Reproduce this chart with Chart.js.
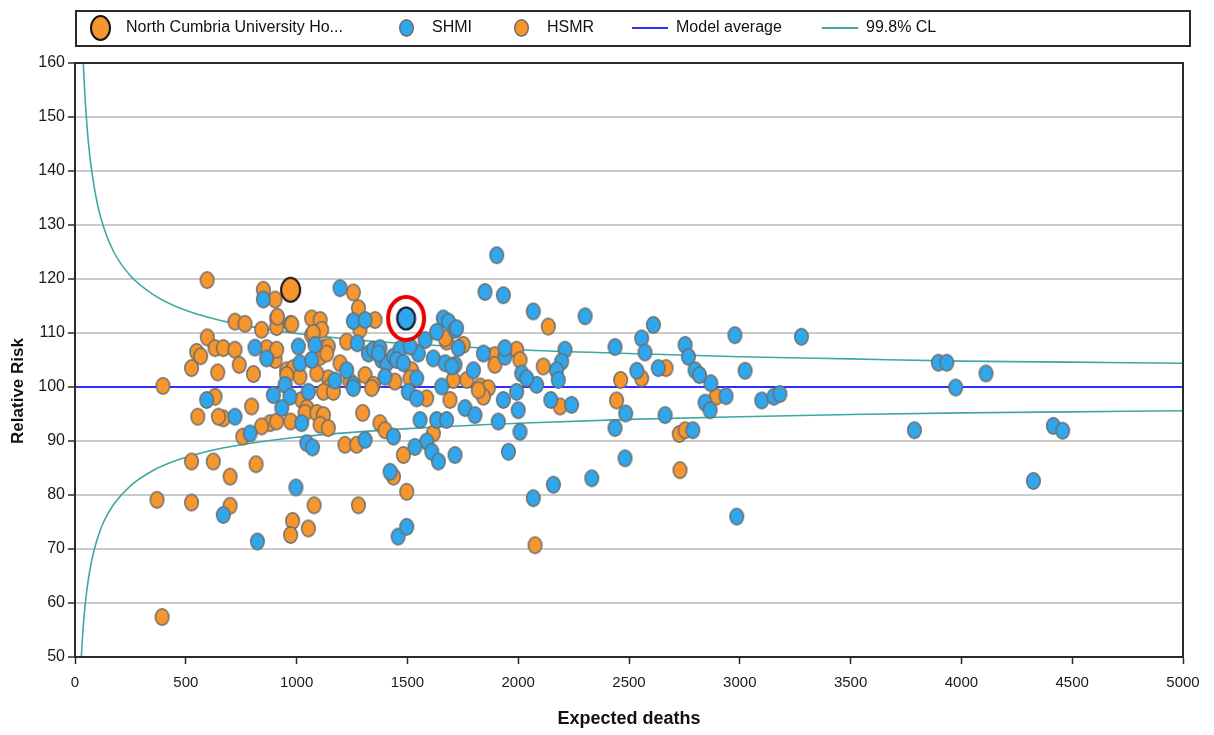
<!DOCTYPE html>
<html>
<head>
<meta charset="utf-8">
<script src="https://cdn.jsdelivr.net/npm/chart.js@4.4.1/dist/chart.umd.min.js"></script>
<style>
  html, body { margin: 0; padding: 0; background: #fff; }
  #wrap { width: 1214px; height: 735px; }
</style>
</head>
<body>
<div id="wrap"><canvas id="c"></canvas></div>
<script>
// --- data ---
const shmiX = [850,1196,1256,1309,812,865,1008,1015,1083,1068,
  1274,1324,1347,1384,1407,1437,1226,1173,1256,1399,
  948,895,970,1053,933,1023,722,594,790,1046,
  1072,1309,1437,669,997,823,1422,1458,1256,1903,
  1850,1933,2068,1662,1685,1632,1715,1580,1730,1467,
  1549,1617,1670,1715,1798,1843,1940,2016,2083,1993,
  1933,2000,1910,2008,1956,2068,1760,1805,1655,1504,
  1542,1542,1557,1632,1677,1587,1534,1610,1640,1715,
  1497,1451,1376,1512,1722,1369,1482,1700,2159,2302,
  2610,2557,2437,2978,3278,1940,2211,2196,2173,2181,
  2038,2332,2147,2241,2485,2437,2482,2535,2572,2632,
  2663,2753,2768,2798,2818,2869,2938,2843,2866,2788,
  3024,3099,3154,3181,2986,3896,3934,4111,3974,3788,
  4415,4457,4325]
const shmiY = [116.2,118.3,112.2,112.4,107.3,105.3,107.5,104.4,107.8,105.0,
  108.1,106.2,106.9,105.0,104.4,105.6,103.1,101.2,100.4,101.9,
  100.4,98.5,98.2,99.1,96.1,93.3,94.5,97.6,91.4,89.6,
  88.8,90.2,90.8,76.3,81.4,71.4,84.3,72.3,99.8,124.4,
  117.6,117.0,114.0,112.7,112.1,110.2,110.6,108.7,107.2,107.0,
  106.2,105.3,104.4,104.1,103.1,106.2,105.6,102.5,100.4,99.1,
  97.6,95.7,93.6,91.7,88.0,79.4,96.1,94.8,100.1,99.1,
  97.9,101.6,93.9,93.9,93.9,89.9,88.9,88.0,86.2,87.4,
  74.1,105.0,107.2,107.5,110.9,106.2,104.4,103.8,81.9,113.1,
  111.5,109.0,107.4,109.6,109.3,107.2,106.9,104.7,103.1,101.3,
  101.6,83.1,97.6,96.7,95.1,92.4,86.8,103.0,106.4,103.5,
  94.8,107.8,105.6,103.1,102.2,100.7,98.3,97.1,95.7,92.0,
  103.0,97.5,98.2,98.7,76.0,104.5,104.5,102.5,99.9,92.0,
  92.8,91.9,82.6]

const hsmrX = [397,370,393,596,850,903,1256,1279,1354,1286,
  722,767,842,910,910,973,1068,1106,1113,1068,
  597,549,567,526,632,669,722,741,644,805,
  903,865,910,1121,1106,1143,1075,1226,1196,1309,
  1347,1444,1143,1151,1241,955,985,1015,1091,1121,
  1023,1046,1038,1091,1121,973,1106,1143,880,842,
  910,797,669,647,554,632,757,1218,1271,1376,
  1399,526,624,817,700,526,700,1079,1279,982,
  973,1053,1437,1298,913,978,1136,955,1166,1497,
  1482,1617,1587,1692,1828,1865,1843,1519,1512,1339,
  1677,1895,1993,2008,2113,2136,2076,1670,1752,1895,
  1707,1768,1820,2189,2462,2444,2557,2667,2893,2727,
  2753,2730]
const hsmrY = [100.2,79.1,57.4,119.8,118.0,116.2,117.5,114.6,112.4,110.6,
  112.1,111.7,110.6,112.7,111.1,111.7,112.7,112.4,110.6,109.6,
  109.2,106.5,105.7,103.5,107.2,107.2,106.9,104.1,102.7,102.4,
  105.0,107.2,106.9,107.2,105.6,107.5,110.0,108.4,104.4,102.2,
  100.4,101.0,101.6,100.1,101.0,103.1,103.5,101.9,102.5,99.1,
  97.6,96.1,95.2,95.2,94.8,93.6,93.0,92.4,93.3,92.7,
  93.6,96.4,94.2,94.5,94.5,98.2,90.8,89.3,89.3,93.3,
  92.0,86.2,86.2,85.7,83.4,78.6,78.0,78.1,78.1,75.2,
  72.6,73.8,83.4,95.2,113.0,111.6,106.2,102.2,99.1,80.6,
  87.4,91.4,97.9,97.6,100.1,99.8,98.2,103.1,101.6,99.8,
  108.4,105.9,106.9,105.0,103.8,111.2,70.7,109.0,107.8,104.1,
  101.3,101.3,99.4,96.4,101.3,97.5,101.6,103.5,98.2,91.3,
  92.0,84.6]

// North Cumbria: HSMR (big orange) and SHMI (ringed blue)
const trustHsmr = [973, 118.0]
const trustShmi = [1494, 112.7]

const averageX = [0, 5000]
const averageY = [100, 100]

// 99.8% control limits
const clE = [24,26,30,35,40,45,50,60,75,100,130,175,250,350,450,600,750,1000,1250,1500,2000,2500,3000,3500,4000,4500,5000]
const clUpper = [178.3,174.6,168.5,162.4,157.7,153.8,150.6,145.5,140.1,134.1,129.5,125.0,120.6,117.2,115.0,112.9,111.5,109.9,108.8,108.0,106.9,106.2,105.6,105.2,104.8,104.6,104.4]
const clLower = [46.3,48.1,51.2,54.4,57.1,59.3,61.2,64.3,67.8,71.8,75.1,78.3,81.7,84.5,86.3,88.1,89.3,90.7,91.6,92.3,93.3,94.0,94.5,94.9,95.2,95.4,95.6]

const xTicks = [0,500,1000,1500,2000,2500,3000,3500,4000,4500,5000]
const yTicks = [50,60,70,80,90,100,110,120,130,140,150,160]

const labels = ["North Cumbria University Ho...", "SHMI", "HSMR", "Model average", "99.8% CL"]
const yTitle = 'Relative Risk'

// --- sprites ---
const ORANGE = '#f6962d'
const BLUE = '#30a6ec'
const AVG = '#2e2eff'
const TEAL = '#3ea8a2'

function dot(w, h, fill, stroke, lw) {
    var c = document.createElement('canvas')
    c.width = Math.ceil(w + lw + 2)
    c.height = Math.ceil(h + lw + 2)
    var g = c.getContext('2d')
    g.beginPath()
    g.ellipse(c.width / 2, c.height / 2, w / 2, h / 2, 0, 0, Math.PI * 2)
    if (fill) {
        g.fillStyle = fill
        g.fill()
    }
    g.lineWidth = lw
    g.strokeStyle = stroke
    g.stroke()
    return c
}
function dash(color) {
    var c = document.createElement('canvas')
    c.width = 36
    c.height = 4
    var g = c.getContext('2d')
    g.fillStyle = color
    g.fillRect(0, 1, 36, 2)
    return c
}

const orangeDot = dot(13.5, 16.5, ORANGE, '#6e6e6e', 1.5)
const blueDot = dot(13.5, 16.5, BLUE, '#6e6e6e', 1.5)
const bigOrange = dot(19, 24, ORANGE, '#151515', 2)
const bigBlue = dot(18, 22, BLUE, '#101a28', 2.2)
const ring = dot(36, 43, null, '#e60000', 4)
const avgDash = dash(AVG)
const clDash = dash(TEAL)

function pairs(xs, ys) {
    return xs.map((x, i) => ({x: x, y: ys[i]}))
}

// legend drawn in a box above the plot, like the original
const legendSlots = [100, 406, 521, 650, 840]
const legendMarks = [bigOrange, blueDot, orangeDot, avgDash, clDash]

const boxLegend = {
    id: 'boxLegend',
    afterDraw(chart) {
        var ctx = chart.ctx
        var area = chart.chartArea
        ctx.save()
        // plot frame
        ctx.strokeStyle = '#2a2a2a'
        ctx.lineWidth = 2
        ctx.strokeRect(area.left, area.top, area.right - area.left, area.bottom - area.top)
        // legend box
        ctx.strokeRect(area.left + 1, 11, 1114, 35)
        ctx.font = '16px "Liberation Sans", Arial, sans-serif'
        ctx.fillStyle = '#111'
        ctx.textBaseline = 'middle'
        labels.forEach((txt, i) => {
            var m = legendMarks[i]
            var cx = legendSlots[i]
            ctx.drawImage(m, Math.round(cx - m.width / 2), Math.round(28 - m.height / 2))
            ctx.fillText(txt, cx + 26, 28)
        })
        // y title sits a little below the plot's middle in the original
        ctx.translate(18, 391)
        ctx.rotate(-Math.PI / 2)
        ctx.textAlign = 'center'
        ctx.font = 'bold 17px "Liberation Sans", Arial, sans-serif'
        ctx.fillText(yTitle, 0, 0)
        ctx.restore()
    }
}

const chart = new Chart(document.getElementById('c'), {
    type: 'scatter',
    data: {
        datasets: [
            {
                label: labels[0],
                data: [{x: trustHsmr[0], y: trustHsmr[1]}],
                pointStyle: bigOrange,
                order: 1
            },
            {
                label: labels[1],
                data: pairs(shmiX, shmiY),
                pointStyle: blueDot,
                order: 3
            },
            {
                label: labels[2],
                data: pairs(hsmrX, hsmrY),
                pointStyle: orangeDot,
                order: 4
            },
            {
                label: labels[3],
                data: pairs(averageX, averageY),
                showLine: true,
                borderColor: AVG,
                borderWidth: 2,
                pointRadius: 0,
                order: 6
            },
            {
                label: labels[4],
                data: pairs(clE, clUpper),
                showLine: true,
                borderColor: TEAL,
                borderWidth: 1.6,
                pointRadius: 0,
                cubicInterpolationMode: 'monotone',
                order: 7
            },
            {
                label: 'lower',
                data: pairs(clE, clLower),
                showLine: true,
                borderColor: TEAL,
                borderWidth: 1.6,
                pointRadius: 0,
                cubicInterpolationMode: 'monotone',
                order: 7
            },
            {
                label: 'trust SHMI',
                data: [{x: trustShmi[0], y: trustShmi[1]}],
                pointStyle: bigBlue,
                order: 2
            },
            {
                label: 'ring',
                data: [{x: trustShmi[0], y: trustShmi[1]}],
                pointStyle: ring,
                order: 0
            }
        ]
    },
    options: {
        responsive: true,
        maintainAspectRatio: false,
        animation: false,
        layout: {
            padding: {top: 63, right: 31, bottom: 0, left: 0}
        },
        plugins: {
            legend: {display: false},
            tooltip: {enabled: false}
        },
        scales: {
            x: {
                type: 'linear',
                min: 0,
                max: 5000,
                afterFit: (scale) => { scale.height = 78 },
                afterBuildTicks: (scale) => { scale.ticks = xTicks.map(v => ({value: v})) },
                border: {color: '#2a2a2a', width: 2},
                grid: {
                    drawOnChartArea: false,
                    tickColor: '#2a2a2a',
                    tickLength: 7,
                    tickWidth: 1.5
                },
                ticks: {
                    padding: 10,
                    maxRotation: 0,
                    color: '#1a1a1a',
                    callback: (v) => String(v),
                    font: {family: '"Liberation Sans", Arial, sans-serif', size: 15}
                },
                title: {
                    display: true,
                    text: 'Expected deaths',
                    color: '#111',
                    padding: {top: 0, bottom: 5},
                    font: {family: '"Liberation Sans", Arial, sans-serif', size: 18, weight: 'bold'}
                }
            },
            y: {
                type: 'linear',
                min: 50,
                max: 160,
                afterFit: (scale) => { scale.width = 75 },
                afterBuildTicks: (scale) => { scale.ticks = yTicks.map(v => ({value: v})) },
                border: {color: '#2a2a2a', width: 2},
                grid: {
                    color: '#cbcbcb',
                    lineWidth: 2,
                    tickColor: '#2a2a2a',
                    tickLength: 7,
                    tickWidth: 1.5
                },
                ticks: {
                    padding: 3,
                    color: '#1a1a1a',
                    font: {family: '"Liberation Sans", Arial, sans-serif', size: 16}
                },
                title: {display: false}
            }
        }
    },
    plugins: [boxLegend]
})
</script>
</body>
</html>
